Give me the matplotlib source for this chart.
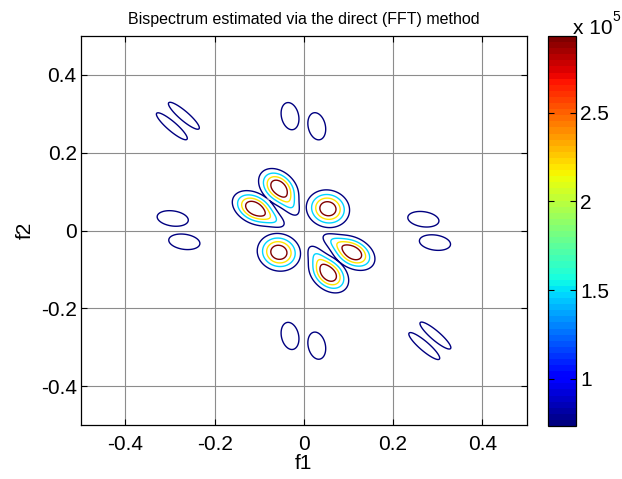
import numpy as np
import matplotlib
matplotlib.use('Agg')
import matplotlib.pyplot as plt
from matplotlib import colors, cm

plt.rcParams['font.family'] = ['Liberation Sans', 'DejaVu Sans']

# contour levels and colour range (units of 1e5)
levels = [0.733, 1.467, 2.200, 2.933]
cbar_ticks = [1, 1.5, 2, 2.5]
cbar_ticklabels = ['1', '1.5', '2', '2.5']
axis_ticks = [-0.4, -0.2, 0, 0.2, 0.4]
axis_ticklabels = ['-0.4', '-0.2', '0', '0.2', '0.4']

# lobes of |B(f1,f2)|: group, centre, peak, widths, tilt
# (a group is one closed blob; its parts add up, separate blobs do not)
lobe_group = [0, 1, 2, 3, 4, 5,
              2, 3, 4, 5,
              6, 7, 8, 9, 10, 11,
              12, 13, 14, 15, 16, 17]
lobe_f1 = [0.054, -0.056, -0.112, -0.057, 0.111, 0.056,
           -0.068, -0.029, 0.067, 0.028,
           -0.296, -0.269, -0.031, 0.029, 0.295, 0.270,
           -0.031, 0.029, -0.294, -0.268, 0.294, 0.268]
lobe_f2 = [0.056, -0.056, 0.058, 0.111, -0.058, -0.112,
           0.028, 0.063, -0.028, -0.064,
           0.268, 0.295, 0.294, 0.268, -0.270, -0.297,
           -0.271, -0.296, 0.031, -0.029, -0.031, 0.029]
lobe_amp = [3.67, 3.67, 3.67, 3.67, 3.67, 3.67,
            1.0, 1.0, 1.0, 1.0,
            1.4, 1.4, 1.4, 1.4, 1.4, 1.4,
            1.4, 1.4, 1.4, 1.4, 1.4, 1.4]
lobe_major = [0.028, 0.028, 0.030, 0.030, 0.030, 0.030,
              0.028, 0.028, 0.028, 0.028,
              0.042, 0.042, 0.031, 0.031, 0.042, 0.042,
              0.031, 0.031, 0.031, 0.031, 0.031, 0.031]
lobe_minor = [0.026, 0.026, 0.021, 0.021, 0.021, 0.021,
              0.013, 0.013, 0.013, 0.013,
              0.0098, 0.0098, 0.017, 0.017, 0.0098, 0.0098,
              0.017, 0.017, 0.017, 0.017, 0.017, 0.017]
lobe_angle = [-45, -45, -38, -52, -38, -52,
              -33, -60, -33, -60,
              -45, -45, -80, -80, -45, -45,
              -80, -80, -10, -10, -10, -10]

f = np.linspace(-0.5, 0.5, 601)
F1, F2 = np.meshgrid(f, f)
blobs = np.zeros((max(lobe_group) + 1,) + F1.shape)
for g, cx, cy, a, s1, s2, ang in zip(lobe_group, lobe_f1, lobe_f2, lobe_amp,
                                     lobe_major, lobe_minor, lobe_angle):
    t = np.deg2rad(ang)
    u = (F1 - cx) * np.cos(t) + (F2 - cy) * np.sin(t)
    v = -(F1 - cx) * np.sin(t) + (F2 - cy) * np.cos(t)
    blobs[g] += a * 1e5 * np.exp(-0.5 * (u ** 2 / s1 ** 2 + v ** 2 / s2 ** 2))
B = blobs.max(axis=0)

cmap = plt.get_cmap('jet', 64)
norm = colors.Normalize(vmin=levels[0] * 1e5, vmax=levels[-1] * 1e5)

fig = plt.figure(figsize=(6.22, 4.79), dpi=100)
ax = fig.add_axes([0.130, 0.1127, 0.717, 0.8121])
cax = fig.add_axes([0.881, 0.1106, 0.045, 0.8142])

ax.contour(F1, F2, B, levels=[l * 1e5 for l in levels], cmap=cmap, norm=norm, linewidths=1.0)

ax.set_xlim(-0.5, 0.5)
ax.set_ylim(-0.5, 0.5)
ax.set_xticks(axis_ticks)
ax.set_xticklabels(axis_ticklabels)
ax.set_yticks(axis_ticks)
ax.set_yticklabels(axis_ticklabels)
ax.grid(True, color='#8c8c8c', linewidth=0.8, linestyle='-')
ax.tick_params(direction='in', length=4, labelsize=15, top=True, right=True)
ax.tick_params(axis='x', pad=7)
ax.tick_params(axis='y', pad=3)
for s in ax.spines.values():
    s.set_linewidth(0.9)
ax.set_xlabel('f1', fontsize=15, labelpad=0)
ax.set_ylabel('f2', fontsize=15, labelpad=4)
ax.set_title('Bispectrum estimated via the direct (FFT) method', fontsize=11.5, pad=9)

sm = cm.ScalarMappable(norm=norm, cmap=cmap)
cb = fig.colorbar(sm, cax=cax)
cb.set_ticks([t * 1e5 for t in cbar_ticks])
cb.set_ticklabels(cbar_ticklabels)
cb.ax.tick_params(direction='in', length=4, labelsize=15, left=True, right=True, pad=3)
cb.outline.set_linewidth(0.9)
fig.text(0.921, 0.93, 'x 10', fontsize=15, ha='left', va='baseline')
fig.text(0.985, 0.957, '5', fontsize=10, ha='left', va='baseline')

fig.savefig('out.png', dpi=100)
